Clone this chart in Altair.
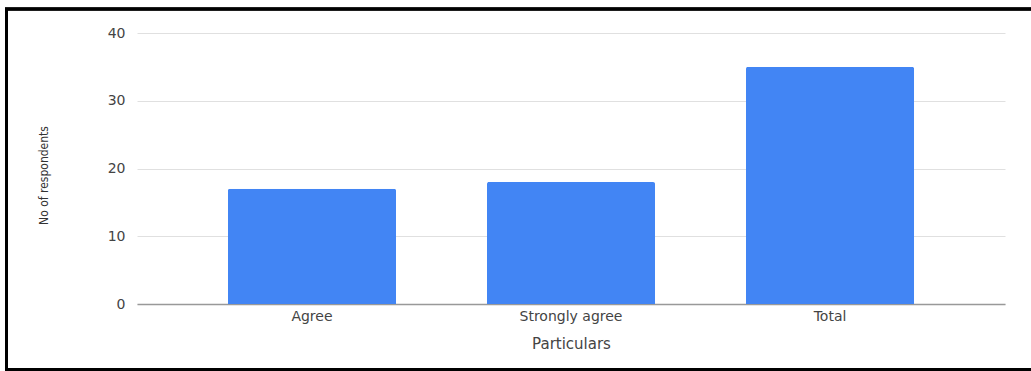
import altair as alt
import pandas as pd

categories = ["Agree", "Strongly agree", "Total"]
respondents = [17, 18, 35]
y_ticks = [0, 10, 20, 30, 40]

df = pd.DataFrame({"Particulars": categories, "No of respondents": respondents})

bars = alt.Chart(df).mark_bar(
    color="#4285F4", cornerRadiusTopLeft=2, cornerRadiusTopRight=2
).encode(
    x=alt.X(
        "Particulars:N",
        sort=categories,
        scale=alt.Scale(paddingInner=0.351, paddingOuter=0.351),
        axis=alt.Axis(
            title="Particulars",
            labelAngle=0,
            labelFont="DejaVu Sans",
            labelFontSize=14,
            labelColor="#444444",
            labelPadding=5,
            ticks=False,
            domain=True,
            domainColor="#999999",
            domainWidth=1.5,
            titleFont="DejaVu Sans",
            titleFontSize=15,
            titleFontWeight="normal",
            titleColor="#444444",
            titlePadding=13,
        ),
    ),
    y=alt.Y(
        "No of respondents:Q",
        scale=alt.Scale(domain=[0, 40], nice=False),
        axis=alt.Axis(
            title="No of respondents",
            values=y_ticks,
            labelFont="DejaVu Sans",
            labelFontSize=14,
            labelColor="#444444",
            labelPadding=12,
            ticks=False,
            domain=False,
            grid=True,
            gridColor="#e0e0e0",
            titleFont="'Liberation Sans Narrow', 'DejaVu Sans Condensed', 'Roboto Condensed', sans-serif",
            titleFontSize=12,
            titleFontWeight="normal",
            titleColor="#333333",
            titleX=-87,
            titleY=142,
        ),
    ),
)

frame = alt.Chart(df).mark_rect(
    fill=None, stroke="black", strokeWidth=3, filled=False
).encode(
    x=alt.value(-130.5),
    x2=alt.value(910),
    y=alt.value(-24),
    y2=alt.value(336.5),
)

chart = alt.layer(bars, frame).properties(
    width=868,
    height=271,
    autosize=alt.AutoSizeParams(type="none"),
    padding={"left": 137, "top": 33, "right": 26, "bottom": 67},
).configure_view(stroke=None)

chart.save("out.html", embed_options={"renderer": "svg", "actions": False})
